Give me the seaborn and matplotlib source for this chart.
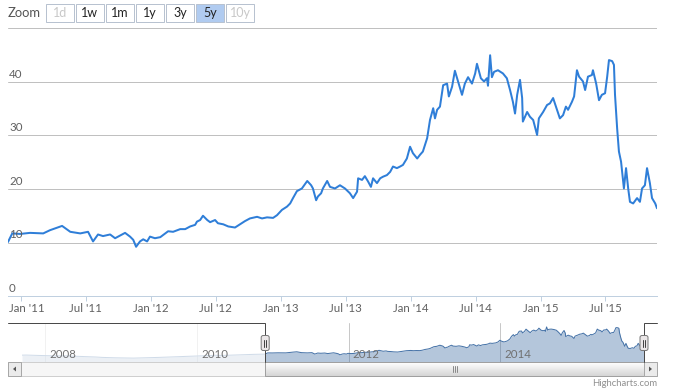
import matplotlib
matplotlib.use("Agg")
import matplotlib.pyplot as plt
import matplotlib.dates as mdates
import matplotlib.transforms as mtrans
from matplotlib.patches import Rectangle, FancyBboxPatch, Polygon
from matplotlib.colors import LinearSegmentedColormap
import numpy as np
import pandas as pd
import seaborn as sns

# ---------------- data ----------------
history_dates = ['2007-09-11', '2007-10-01', '2007-11-01', '2007-12-01',
                 '2008-01-01', '2008-02-01', '2008-03-01', '2008-04-01', '2008-05-01', '2008-06-01',
                 '2008-07-01', '2008-08-01', '2008-09-01', '2008-10-01', '2008-11-01', '2008-12-01',
                 '2009-01-01', '2009-02-01', '2009-03-01', '2009-04-01', '2009-05-01', '2009-06-01',
                 '2009-07-01', '2009-08-01', '2009-09-01', '2009-10-01', '2009-11-01', '2009-12-01',
                 '2010-01-01', '2010-02-01', '2010-03-01', '2010-04-01', '2010-05-01', '2010-06-01',
                 '2010-07-01', '2010-08-01', '2010-09-01', '2010-10-01', '2010-11-01']
history_values = [8.8, 8.9, 8.6, 8.4,
                  8.2, 8.0, 7.8, 7.9, 7.6, 7.3,
                  7.0, 6.8, 6.4, 5.9, 5.6, 5.4,
                  5.3, 5.1, 5.0, 5.2, 5.4, 5.6,
                  5.9, 6.2, 6.5, 6.9, 7.2, 7.4,
                  7.7, 7.9, 8.2, 8.6, 8.4, 8.7,
                  9.0, 9.2, 9.5, 9.8, 10.0]

dates = ['2010-11-25', '2010-12-07', '2010-12-29', '2011-01-26', '2011-03-04', '2011-03-23',
         '2011-04-09', '2011-04-26', '2011-05-19', '2011-06-16', '2011-07-08', '2011-07-22',
         '2011-08-05', '2011-08-19', '2011-09-08', '2011-09-22', '2011-10-06', '2011-10-20',
         '2011-11-03', '2011-11-12', '2011-11-20', '2011-12-01', '2011-12-10', '2011-12-21',
         '2011-12-29', '2012-01-12', '2012-01-27', '2012-02-10', '2012-02-18', '2012-03-03',
         '2012-03-23', '2012-04-06', '2012-04-20', '2012-05-04', '2012-05-09', '2012-05-18',
         '2012-05-26', '2012-06-07', '2012-06-15', '2012-06-29', '2012-07-07', '2012-07-22',
         '2012-08-05', '2012-08-24', '2012-09-07', '2012-09-21', '2012-10-05', '2012-10-25',
         '2012-11-08', '2012-11-22', '2012-12-09', '2012-12-20', '2013-01-03', '2013-01-17',
         '2013-01-26', '2013-02-03', '2013-02-14', '2013-02-28', '2013-03-15', '2013-03-26',
         '2013-03-31', '2013-04-09', '2013-04-14', '2013-04-23', '2013-04-28', '2013-05-10',
         '2013-05-18', '2013-06-01', '2013-06-15', '2013-06-29', '2013-07-13', '2013-07-22',
         '2013-08-02', '2013-08-05', '2013-08-16', '2013-08-24', '2013-09-02', '2013-09-10',
         '2013-09-16', '2013-09-27', '2013-10-06', '2013-10-14', '2013-10-25', '2013-11-03',
         '2013-11-11', '2013-11-22', '2013-12-01', '2013-12-09', '2013-12-20', '2013-12-29',
         '2014-01-06', '2014-01-18', '2014-01-26', '2014-02-03', '2014-02-15', '2014-02-23',
         '2014-03-04', '2014-03-09', '2014-03-15', '2014-03-23', '2014-04-01', '2014-04-12',
         '2014-04-17', '2014-04-26', '2014-05-04', '2014-05-13', '2014-05-24', '2014-06-01',
         '2014-06-10', '2014-06-21', '2014-06-30', '2014-07-05', '2014-07-16', '2014-07-25',
         '2014-08-02', '2014-08-05', '2014-08-11', '2014-08-16', '2014-08-22', '2014-09-02',
         '2014-09-16', '2014-09-27', '2014-10-06', '2014-10-14', '2014-10-20', '2014-10-26',
         '2014-11-03', '2014-11-09', '2014-11-11', '2014-11-23', '2014-12-01', '2014-12-10',
         '2014-12-21', '2014-12-26', '2015-01-07', '2015-01-18', '2015-01-26', '2015-02-04',
         '2015-02-12', '2015-02-23', '2015-03-04', '2015-03-12', '2015-03-18', '2015-03-29',
         '2015-04-04', '2015-04-12', '2015-04-18', '2015-04-29', '2015-05-05', '2015-05-13',
         '2015-05-24', '2015-05-27', '2015-06-05', '2015-06-13', '2015-06-21', '2015-06-30',
         '2015-07-06', '2015-07-11', '2015-07-20', '2015-07-25', '2015-07-28', '2015-08-03',
         '2015-08-08', '2015-08-14', '2015-08-20', '2015-08-22', '2015-08-28', '2015-09-03',
         '2015-09-08', '2015-09-17', '2015-09-28', '2015-10-06', '2015-10-12', '2015-10-20',
         '2015-10-26', '2015-11-03', '2015-11-09', '2015-11-18', '2015-11-23']
values = [10.1, 11.7, 11.6, 11.8, 11.7, 12.3,
          12.7, 13.1, 12.0, 11.7, 12.0, 10.2,
          11.5, 11.2, 11.5, 10.8, 11.3, 11.8,
          11.1, 10.5, 9.2, 10.2, 10.6, 10.2,
          11.1, 10.8, 11.0, 11.7, 12.1, 12.0,
          12.5, 12.5, 13.0, 13.3, 13.9, 14.2,
          15.0, 14.2, 13.8, 14.2, 13.6, 13.4,
          13.0, 12.8, 13.4, 14.0, 14.5, 14.8,
          14.5, 14.7, 14.6, 15.1, 16.1, 16.7,
          17.3, 18.3, 19.6, 20.1, 21.5, 20.7,
          20.1, 17.9, 18.6, 19.2, 20.1, 21.5,
          20.4, 20.1, 20.7, 20.1, 19.2, 18.3,
          19.5, 22.0, 21.7, 22.4, 21.4, 20.4,
          22.0, 21.1, 22.0, 22.3, 22.6, 23.2,
          24.2, 23.9, 24.2, 24.5, 25.7, 27.9,
          26.7, 25.7, 26.4, 27.0, 29.5, 32.9,
          35.1, 33.2, 34.8, 35.4, 39.4, 39.7,
          37.3, 39.1, 42.1, 40.1, 37.6, 39.7,
          40.9, 39.7, 41.6, 43.4, 40.7, 40.1,
          40.7, 39.3, 45.0, 40.9, 41.9, 42.2,
          41.6, 40.7, 38.5, 36.3, 34.1, 37.6,
          40.4, 37.0, 32.6, 34.4, 33.5, 32.9,
          30.1, 33.2, 34.4, 35.7, 36.0, 37.0,
          35.4, 33.2, 33.8, 35.4, 34.8, 36.3,
          37.3, 42.2, 41.0, 40.1, 38.5, 41.0,
          41.3, 42.2, 39.7, 36.6, 37.6, 37.9,
          41.0, 44.1, 43.9, 43.2, 37.6, 31.3,
          27.0, 25.1, 21.4, 20.1, 23.9, 20.1,
          17.6, 17.3, 18.3, 17.6, 20.1, 20.7,
          23.9, 21.1, 18.3, 17.3, 16.4]

y_ticks = [0, 10, 20, 30, 40, 50]
y_labels = ['0', '10', '20', '30', '40']
nav_year_ticks = ['2008-01-01', '2010-01-01', '2012-01-01', '2014-01-01']
nav_year_labels = ['2008', '2010', '2012', '2014']
zoom_buttons = ['1d', '1w', '1m', '1y', '3y', '5y', '10y']
zoom_enabled = [False, True, True, True, True, True, False]
selected_button = '5y'
view_start = '2010-11-25'
view_end = '2015-11-23'
all_start = '2007-09-11'

# ---------------- figure ----------------
W, H = 673, 392
sns.set_theme(style="white")
plt.rcParams['font.family'] = ['Lato', 'DejaVu Sans']


def PX(p):
    return p * 0.72


fig = plt.figure(figsize=(W / 100, H / 100), dpi=100)
fig.patch.set_facecolor('white')


def add_px_axes(x0, y0, x1, y1, **kw):
    return fig.add_axes([x0 / W, 1 - y1 / H, (x1 - x0) / W, (y1 - y0) / H], **kw)


main_df = pd.DataFrame({'date': pd.to_datetime(dates), 'value': values})
hist_df = pd.DataFrame({'date': pd.to_datetime(history_dates), 'value': history_values})
full_df = pd.concat([hist_df, main_df], ignore_index=True)

TXT = '#606060'

# ---- main chart ----
ax = add_px_axes(8, 28.5, 657, 296)
ax.set_facecolor('white')
sns.lineplot(data=main_df, x='date', y='value', ax=ax, color='#2f7ed8',
             linewidth=PX(2), estimator=None, zorder=3)
ax.set_xlim(pd.Timestamp(view_start), pd.Timestamp(view_end))
ax.set_ylim(0, 50)
ax.set_yticks(y_ticks)
ax.yaxis.grid(True, color='#C0C0C0', linewidth=PX(1))
ax.xaxis.grid(False)
ax.tick_params(axis='y', length=0, labelleft=False)
for s in ['top', 'left', 'right']:
    ax.spines[s].set_visible(False)
ax.spines['bottom'].set_color('#C0D0E0')
ax.spines['bottom'].set_linewidth(PX(1))
ax.set_xlabel('')
ax.set_ylabel('')

ytrans = mtrans.offset_copy(ax.get_yaxis_transform(), fig=fig, x=1, y=2, units='dots')
for v, lab in zip(y_ticks, y_labels):
    ax.text(0, v, lab, transform=ytrans, ha='left', va='bottom',
            fontsize=PX(11.5), color=TXT, zorder=4)

first_tick = pd.Timestamp('2011-01-01')
ax.xaxis.set_major_locator(mdates.MonthLocator(bymonth=[1, 7]))


def fmt(x, pos=None):
    d = mdates.num2date(x)
    if d.year == first_tick.year and d.month == 1:
        return ''
    return d.strftime("%b '%y")


ax.xaxis.set_major_formatter(plt.FuncFormatter(fmt))
ax.tick_params(axis='x', direction='out', bottom=True, length=PX(5), width=PX(1),
               color='#C0D0E0', labelsize=PX(11.5), labelcolor=TXT, pad=PX(1.5))
xt = mtrans.offset_copy(ax.get_xaxis_transform(), fig=fig, x=-12, y=-6.5, units='dots')
ax.text(mdates.date2num(first_tick), 0, first_tick.strftime("%b '%y"), transform=xt,
        ha='left', va='top', fontsize=PX(11.5), color=TXT)

# ---- navigator ----
NX0, NX1, NY0, NY1 = 22, 644, 323, 362
nav = add_px_axes(NX0, NY0, NX1, NY1)
nav.set_facecolor('white')
nav.fill_between(full_df['date'], full_df['value'], 0, color='#4572A7', alpha=0.4,
                 linewidth=0, zorder=2)
sns.lineplot(data=full_df, x='date', y='value', ax=nav, color='#4572A7',
             linewidth=PX(1), estimator=None, zorder=3)
nav.set_xlim(pd.Timestamp(all_start), pd.Timestamp(view_end))
nav.set_ylim(0, 50)
nav.set_xticks(pd.to_datetime(nav_year_ticks))
nav.xaxis.grid(True, color='#C8C8C8', linewidth=PX(1))
nav.yaxis.grid(False)
nav.tick_params(length=0, labelbottom=False, labelleft=False)
for s in nav.spines.values():
    s.set_visible(False)
nav.set_xlabel('')
nav.set_ylabel('')
nav.axvspan(pd.Timestamp(all_start), pd.Timestamp(view_start), color='white',
            alpha=0.75, zorder=5, lw=0)
lt = mtrans.offset_copy(nav.get_xaxis_transform(), fig=fig, x=4, y=2, units='dots')
for d, lab in zip(pd.to_datetime(nav_year_ticks), nav_year_labels):
    nav.text(d, 0, lab, transform=lt, ha='left', va='bottom', fontsize=PX(11.5),
             color='#707070', zorder=6)

# ---- overlay (range selector, outline, scrollbar, credit) ----
ov = fig.add_axes([0, 0, 1, 1], zorder=10)
ov.patch.set_alpha(0)
ov.axis('off')

t0 = pd.Timestamp(all_start)
t1 = pd.Timestamp(view_end)
frac = (pd.Timestamp(view_start) - t0) / (t1 - t0)
hx0 = NX0 + frac * (NX1 - NX0)
hx1 = NX1

# scrollbar
SY0, SY1 = 362, 376
ov.add_patch(Rectangle((8, SY0), 649, SY1 - SY0, fc='#f6f6f6', ec='#cfcfcf', lw=PX(1), zorder=1))
grad = np.linspace(0, 1, 30).reshape(-1, 1)
cm = LinearSegmentedColormap.from_list('g', ['#ffffff', '#d6d6d6'])
ov.imshow(grad, extent=(hx0, hx1, SY1, SY0), cmap=cm, aspect='auto', zorder=2)
ov.add_patch(Rectangle((hx0, SY0), hx1 - hx0, SY1 - SY0, fc='none', ec='#a0a0a0', lw=PX(1), zorder=3))
gx = (hx0 + hx1) / 2
for dx in (-2, 0, 2):
    ov.plot([gx + dx, gx + dx], [366, 372], color='#8a8a8a', lw=PX(1), zorder=4)
# arrow buttons
for bx0, direction in ((8, -1), (644, 1)):
    ov.add_patch(Rectangle((bx0, SY0), 13, SY1 - SY0, fc='#ebebeb', ec='#a8a8a8', lw=PX(1), zorder=4))
    cx = bx0 + 6.5
    if direction < 0:
        tri = [(cx + 1.5, 366.5), (cx + 1.5, 371.5), (cx - 1.5, 369)]
    else:
        tri = [(cx - 1.5, 366.5), (cx - 1.5, 371.5), (cx + 1.5, 369)]
    ov.add_patch(Polygon(tri, closed=True, fc='#555555', ec='none', zorder=5))

# navigator outline
OC = '#4a4a4a'
ov.plot([8, hx0, hx0], [NY0, NY0, NY1], color=OC, lw=PX(1), zorder=6, solid_joinstyle='miter')
ov.plot([hx1, hx1, 657], [NY1, NY0, NY0], color=OC, lw=PX(1), zorder=6, solid_joinstyle='miter')

# handles
for hx in (hx0, hx1):
    ov.add_patch(FancyBboxPatch((hx - 4, 335.5), 8, 15, boxstyle='round,pad=0,rounding_size=2',
                                fc='#ebe7e8', ec='#7a7a7a', lw=PX(1), zorder=7))
    for dx in (-1.3, 1.3):
        ov.plot([hx + dx, hx + dx], [339.5, 346.5], color='#444444', lw=PX(1), zorder=8)

# range selector
ov.text(8, 13, 'Zoom', ha='left', va='center', fontsize=PX(13), color='#555555', zorder=8)
for i, (lab, en) in enumerate(zip(zoom_buttons, zoom_enabled)):
    cx = 60 + 30 * i
    sel = lab == selected_button
    fc = '#b0cbf0' if sel else 'white'
    ov.add_patch(Rectangle((cx - 14, 3.5), 28, 18, fc=fc, ec='#b8c2d0', lw=PX(1), zorder=7))
    ov.text(cx, 12.5, lab, ha='center', va='center', fontsize=PX(12.5),
            color=('#222222' if en else '#c8c8c8'), zorder=8)

# credit
ov.text(657, 384, 'Highcharts.com', ha='right', va='center', fontsize=PX(9.5),
        color='#909090', zorder=8)

ov.set_xlim(0, W)
ov.set_ylim(H, 0)

fig.savefig('out.png', dpi=100, facecolor='white')
